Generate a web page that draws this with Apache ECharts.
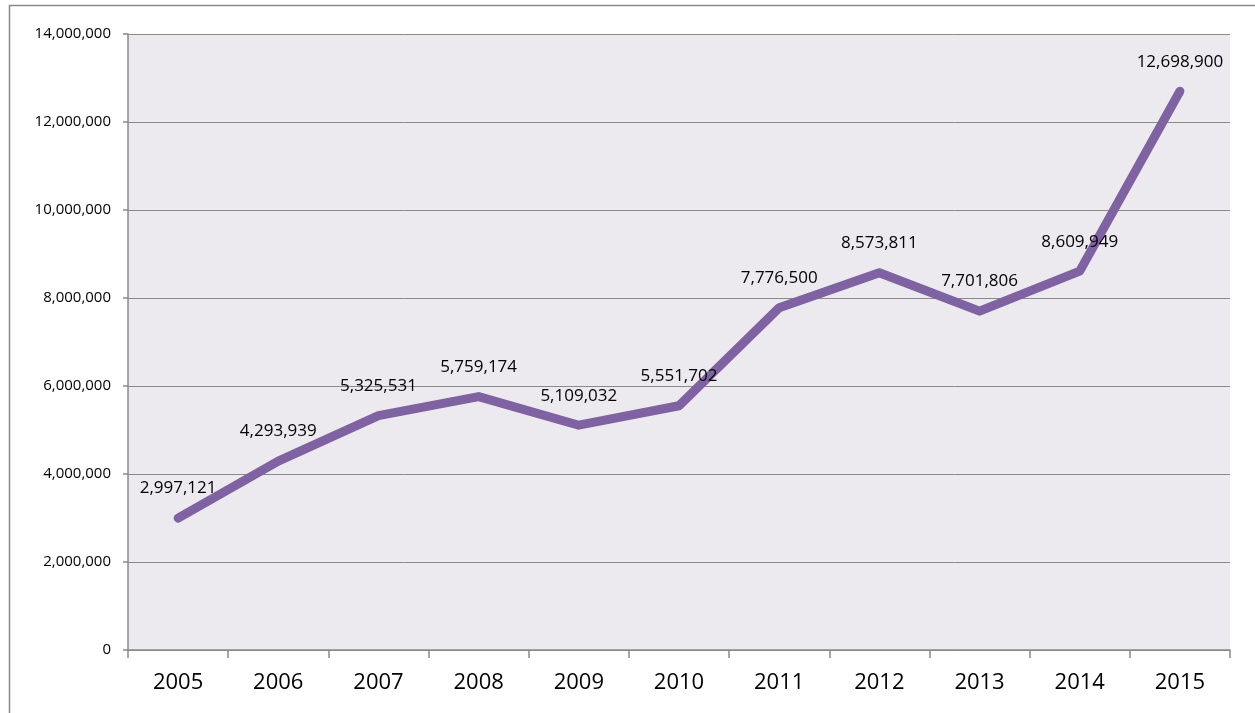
<!DOCTYPE html>
<html><head><meta charset="utf-8">
<script src="https://cdn.jsdelivr.net/npm/echarts@6/dist/echarts.min.js"></script>
<style>html,body{margin:0;padding:0;background:#fff}#c{width:1255px;height:713px}</style>
</head><body><div id="c"></div>
<script>
const years = ['2005','2006','2007','2008','2009','2010','2011','2012','2013','2014','2015'];
const values = [2997121, 4293939, 5325531, 5759174, 5109032, 5551702, 7776500, 8573811, 7701806, 8609949, 12698900];
const yTicks = [0, 2000000, 4000000, 6000000, 8000000, 10000000, 12000000, 14000000];

const fmt = v => v.toLocaleString('en-US');
const chart = echarts.init(document.getElementById('c'));
chart.setOption({
  animation: false,
  graphic: [{
    type: 'rect', shape: {x: 9.5, y: 5.5, width: 1300, height: 800},
    style: {fill: 'none', stroke: '#898989', lineWidth: 1.5}, silent: true
  }],
  grid: {left: 128, right: 25, top: 34, bottom: 63, show: true, backgroundColor: '#ECE9EF', borderWidth: 0},
  xAxis: {
    type: 'category', data: years, boundaryGap: true,
    axisLine: {lineStyle: {color: '#898989', width: 1.5}},
    axisTick: {show: true, length: 8, lineStyle: {color: '#898989', width: 1.5}},
    axisLabel: {color: '#000', fontSize: 22, fontFamily: 'Open Sans', margin: 22}
  },
  yAxis: {
    type: 'value', min: yTicks[0], max: yTicks[yTicks.length-1], interval: 2000000,
    axisLine: {show: true, lineStyle: {color: '#898989', width: 1.5}},
    axisTick: {show: true, length: 5, lineStyle: {color: '#898989', width: 1.5}},
    splitLine: {lineStyle: {color: '#8a8a8a', width: 1}},
    axisLabel: {color: '#000', fontSize: 15, fontFamily: 'Open Sans', margin: 17, formatter: v => fmt(v)}
  },
  series: [{
    type: 'line', data: values, symbol: 'circle', symbolSize: 2, showSymbol: true,
    itemStyle: {color: 'rgba(127,98,161,0)'},
    lineStyle: {color: '#7F62A1', width: 9, cap: 'round', join: 'round'},
    label: {show: true, position: 'top', distance: 20, color: '#000', opacity: 1, fontSize: 17, fontFamily: 'Open Sans', formatter: p => fmt(p.value)}
  }]
});
</script></body></html>
